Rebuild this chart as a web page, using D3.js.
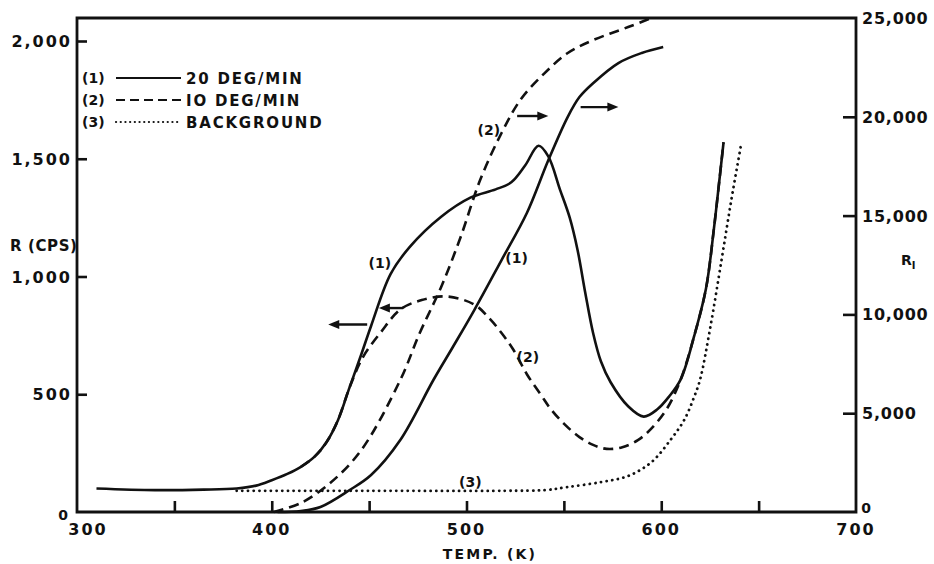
<!DOCTYPE html>
<html><head><meta charset="utf-8">
<script src="https://cdn.jsdelivr.net/npm/d3@7"></script>
<style>
body{margin:0;background:#fff;}
text{font-family:"DejaVu Sans",sans-serif;font-weight:bold;fill:#111;}
</style></head>
<body><svg id="c" width="934" height="564"></svg>
<script>
// ---- data ----
const xTicksMajor = [300, 400, 500, 600, 700];
const xTicksMinor = [350, 400, 450, 500, 550, 600, 650];
const leftTicks = [500, 1000, 1500, 2000];
const leftTickLabels = ["500", "1,000", "1,500", "2,000"];
const rightTicks = [5000, 10000, 15000, 20000, 25000];
const rightTickLabels = ["5,000", "10,000", "15,000", "20,000", "25,000"];

// (1) 20 deg/min, R (cps) – left axis
const r1Temp = [310,340,365,382,392,400,408,415,422,428,434,440,446,451,461,471,487,502,515,523,530,537,542,548,553,557,561,565,569,574,583,591,598,604,610,617,623,627,630,632];
const r1Cps  = [100,93,95,100,112,135,162,192,235,295,390,530,670,790,1010,1127,1254,1335,1370,1400,1470,1555,1510,1369,1250,1114,930,760,640,551,449,405,436,490,563,750,950,1200,1420,1570];
// (2) 10 deg/min, R (cps) – left axis
const r2Temp = [415,422,428,434,440,447,456,466,477,490,504,512,518,524,531,538,543,550,558,565,572,580,588,595,603,610,617,623,627,630,632];
const r2Cps  = [192,235,295,390,530,660,763,860,900,915,881,820,760,690,585,500,440,375,318,285,268,275,305,355,440,563,750,950,1200,1420,1570];
// (3) background – left axis
const bgTemp = [382,450,520,540,552,569,583,595,605,612,617,620,625,631,636,641];
const bgCps  = [90,90,90,93,106,127,153,212,309,394,491,564,775,1072,1326,1560];
// integrated counts R_I – right axis
const i1Temp = [403,415,425,440,451,466,483,493,504,518,531,542,552,558,565,578,590,601];
const i1Val  = [0,50,253,1113,1872,3643,6680,8350,10220,12750,15130,17800,20000,21000,21700,22720,23230,23530];
const i2Temp = [401,415,430,446,466,476,487,497,507,518,528,540,552,565,583,595];
const i2Val  = [0,455,1467,3137,6680,9060,11390,13920,16800,19180,20900,22200,23230,23880,24540,25000];

const legendLabels = ["(1)", "(2)", "(3)"];
const legendTexts = ["20 DEG/MIN", "IO DEG/MIN", "BACKGROUND"];

// ---- layout ----
const L = 77, R = 856, T = 18, B = 512;
const svg = d3.select("#c");
const x = d3.scaleLinear().domain([300, 700]).range([L, R]);
const yL = d3.scaleLinear().domain([0, 2000]).range([B, 41]);
const yR = d3.scaleLinear().domain([0, 25000]).range([B, T]);

const ink = "#111";
const lw = 2.6;

// frame
svg.append("path")
  .attr("d", `M${L},${T} L${R},${T} L${R},${B} L${L},${B} Z`)
  .attr("fill", "none").attr("stroke", ink).attr("stroke-width", 2.8);

// x axis (ticks inward)
const xAxis = d3.axisTop(x).tickValues(xTicksMinor).tickSize(11).tickFormat("");
const gx = svg.append("g").attr("transform", `translate(0,${B})`).call(xAxis);
gx.select(".domain").remove();
gx.selectAll("line").attr("stroke", ink).attr("stroke-width", 2.6);

// x labels
svg.append("g").selectAll("text").data(xTicksMajor).join("text")
  .attr("x", d => x(d) + (d === 300 ? 11 : 0)).attr("y", 535)
  .attr("text-anchor", "middle").attr("font-size", 16).attr("letter-spacing", 2)
  .text(d => d);
svg.append("text").attr("x", 63).attr("y", 520).attr("text-anchor", "middle")
  .attr("font-size", 14).text("0");
svg.append("text").attr("x", 866).attr("y", 513).attr("text-anchor", "middle")
  .attr("font-size", 14).text("0");
svg.append("text").attr("x", 490).attr("y", 559).attr("text-anchor", "middle")
  .attr("font-size", 14).attr("letter-spacing", 2.2).text("TEMP. (K)");

// left axis (ticks inward)
const lAxis = d3.axisRight(yL).tickValues(leftTicks).tickSize(10).tickFormat("");
const gl = svg.append("g").attr("transform", `translate(${L},0)`).call(lAxis);
gl.select(".domain").remove();
gl.selectAll("line").attr("stroke", ink).attr("stroke-width", 2.6);
svg.append("g").selectAll("text").data(leftTicks).join("text")
  .attr("x", 72).attr("y", d => yL(d) + 6)
  .attr("text-anchor", "end").attr("font-size", 16).attr("letter-spacing", 2)
  .text((d, i) => leftTickLabels[i]);
svg.append("text").attr("x", 10).attr("y", 251).attr("font-size", 15)
  .attr("letter-spacing", 0.6).text("R (CPS)");

// right axis (ticks inward)
const rAxis = d3.axisLeft(yR).tickValues(rightTicks.slice(0, 4)).tickSize(13).tickFormat("");
const gr = svg.append("g").attr("transform", `translate(${R},0)`).call(rAxis);
gr.select(".domain").remove();
gr.selectAll("line").attr("stroke", ink).attr("stroke-width", 2.6);
svg.append("g").selectAll("text").data(rightTicks).join("text")
  .attr("x", 862).attr("y", d => yR(d) + 6)
  .attr("font-size", 16).attr("letter-spacing", 0.8)
  .text((d, i) => rightTickLabels[i]);
const rl = svg.append("text").attr("x", 901).attr("y", 265).attr("font-size", 14);
rl.append("tspan").text("R");
rl.append("tspan").attr("dy", 4).attr("font-size", 10).text("I");

// curves
const lineL = d3.line().x(d => x(d[0])).y(d => yL(d[1])).curve(d3.curveCatmullRom.alpha(0.5));
const lineR = d3.line().x(d => x(d[0])).y(d => yR(d[1])).curve(d3.curveCatmullRom.alpha(0.5));
const zip = (a, b) => a.map((v, i) => [v, b[i]]);

svg.append("path").attr("d", lineL(zip(bgTemp, bgCps)))
  .attr("fill", "none").attr("stroke", ink).attr("stroke-width", 2.8)
  .attr("stroke-dasharray", "0.1 5.6").attr("stroke-linecap", "round");
svg.append("path").attr("d", lineL(zip(r1Temp, r1Cps)))
  .attr("fill", "none").attr("stroke", ink).attr("stroke-width", lw);
svg.append("path").attr("d", lineL(zip(r2Temp, r2Cps)))
  .attr("fill", "none").attr("stroke", ink).attr("stroke-width", lw)
  .attr("stroke-dasharray", "10 6");
svg.append("path").attr("d", lineR(zip(i1Temp, i1Val)))
  .attr("fill", "none").attr("stroke", ink).attr("stroke-width", lw);
svg.append("path").attr("d", lineR(zip(i2Temp, i2Val)))
  .attr("fill", "none").attr("stroke", ink).attr("stroke-width", lw)
  .attr("stroke-dasharray", "10 6");

// arrows [x0, x1, value, axis] (data coordinates)
const arrows = [
  [449, 429, 796, "L"],
  [467.5, 455, 866, "L"],
  [526, 542, 20040, "R"],
  [558.6, 578, 20490, "R"]
];
arrows.forEach(a => {
  const ys = a[3] === "L" ? yL(a[2]) : yR(a[2]);
  const x0 = x(a[0]), x1 = x(a[1]);
  const dir = x1 > x0 ? 1 : -1;
  svg.append("line").attr("x1", x0).attr("x2", x1 - dir * 6).attr("y1", ys).attr("y2", ys)
    .attr("stroke", ink).attr("stroke-width", 2.4);
  svg.append("path")
    .attr("d", `M${x1},${ys} L${x1 - dir * 11},${ys - 4.5} L${x1 - dir * 11},${ys + 4.5} Z`)
    .attr("fill", ink);
});

// curve labels [text, temp, value, axis]
const curveLabels = [
  ["(1)", 455.5, 1057, "L"],
  ["(1)", 525.7, 12850, "R"],
  ["(2)", 511.5, 19330, "R"],
  ["(2)", 531.5, 658, "L"],
  ["(3)", 502, 127, "L"]
];
svg.append("g").selectAll("text").data(curveLabels).join("text")
  .attr("x", d => x(d[1])).attr("y", d => (d[3] === "L" ? yL(d[2]) : yR(d[2])) + 5)
  .attr("text-anchor", "middle").attr("font-size", 14).text(d => d[0]);

// legend
const legY = [78, 100, 122];
const dashes = [null, "9 5", "0.1 4.6"];
legendLabels.forEach((lab, i) => {
  svg.append("text").attr("x", 82).attr("y", legY[i] + 5).attr("font-size", 14).text(lab);
  const ln = svg.append("line").attr("x1", 116).attr("x2", 181)
    .attr("y1", legY[i]).attr("y2", legY[i])
    .attr("stroke", ink).attr("stroke-width", i === 2 ? 2.2 : 2);
  if (dashes[i]) ln.attr("stroke-dasharray", dashes[i]);
  if (i === 2) ln.attr("stroke-linecap", "round");
  svg.append("text").attr("x", 186).attr("y", legY[i] + 6).attr("font-size", 15)
    .attr("letter-spacing", 1.8).text(legendTexts[i]);
});
</script></body></html>
